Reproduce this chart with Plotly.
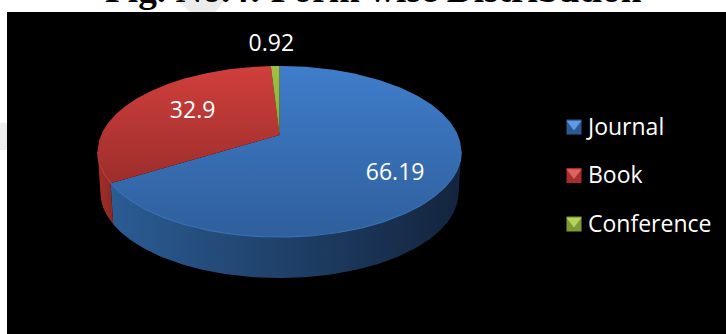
import numpy as np
import plotly.graph_objects as go

categories = ["Journal", "Book", "Conference"]
values = [66.19, 32.9, 0.92]
labels = ["66.19", "32.9", "0.92"]
label_radius = [0.725, 0.61, 1.42]
label_turn_deg = [5.5, 4.5, -0.7]
top_grad = [("#3f7dcb", "#2f5f9c"), ("#d03f3c", "#9c2e2b"), ("#a0c045", "#8aa83a")]
wall_grad = [("#2b5c94", "#13243d"), ("#a42f2b", "#8a2724"), ("#7d9a34", "#6b8529")]
rim = ["#3a70b4", "#b83a37", "#a8c84f"]
leg_dark = ["#2a5a94", "#a52f2c", "#7f9a35"]
leg_light = ["#5b9be6", "#e0615e", "#b4d25c"]

W, H = 726, 334
CX, CY, K, A, C = 279.5, 135.0, 178.4, -56.3, 0.193
DEPTH = 41.0
FONT = "Open Sans"


def project(theta, r=1.0, drop=0.0, scale=1.0):
    u, v = r * np.sin(theta), r * np.cos(theta)
    d = C * v + 1
    return CX + scale * K * u / d, (A * v + CY) / d + drop


edges = np.cumsum([0] + values) / sum(values) * 2 * np.pi
fig = go.Figure()

right_ext, left_ext = np.arccos(-C), 2 * np.pi - np.arccos(-C)
# Walls
for i in range(len(values)):
    a, b = max(edges[i], right_ext), min(edges[i + 1], left_ext)
    if b <= a:
        continue
    t = np.linspace(a, b, 160)
    x1, y1 = project(t)
    x2, y2 = project(t[::-1], drop=DEPTH, scale=0.985)
    fig.add_trace(go.Scatter(
        x=np.r_[x1, x2, x1[0]], y=np.r_[y1, y2, y1[0]], mode="lines", fill="toself",
        line=dict(width=0), hoverinfo="skip",
        fillgradient=dict(type="horizontal", colorscale=[[0, wall_grad[i][0]], [1, wall_grad[i][1]]]),
    ))
# Top face
for i in range(len(values)):
    t = np.linspace(edges[i], edges[i + 1], 240)
    x, y = project(t)
    fig.add_trace(go.Scatter(
        x=np.r_[CX, x, CX], y=np.r_[CY, y, CY], mode="lines", fill="toself",
        line=dict(width=0), hoverinfo="skip",
        fillgradient=dict(type="vertical", colorscale=[[0, top_grad[i][1]], [1, top_grad[i][0]]]),
    ))
# Rim highlight
for i in range(len(values)):
    a, b = max(edges[i], right_ext), min(edges[i + 1], left_ext)
    if b <= a:
        continue
    t = np.linspace(a, b, 160)
    x, y = project(t)
    fig.add_trace(go.Scatter(x=x, y=y, mode="lines", line=dict(width=1.2, color=rim[i]), hoverinfo="skip"))
# Data labels
mids = (edges[:-1] + edges[1:]) / 2
for i, s in enumerate(labels):
    x, y = project(mids[i] + np.radians(label_turn_deg[i]), r=label_radius[i], drop=2)
    fig.add_trace(go.Scatter(x=[x], y=[y], mode="text", text=[s], textposition="middle center",
                             textfont=dict(family=FONT, size=23, color="white"), hoverinfo="skip"))
# Legend
for i, name in enumerate(categories):
    y = 127 + i * 48.5
    fig.add_trace(go.Scatter(x=[574], y=[y], mode="markers", hoverinfo="skip",
                             marker=dict(symbol="square", size=15, color=leg_dark[i], line=dict(width=0))))
    fig.add_trace(go.Scatter(x=[574], y=[y - 3], mode="markers", hoverinfo="skip",
                             marker=dict(symbol="triangle-down", size=13, color=leg_light[i], line=dict(width=0))))
    fig.add_trace(go.Scatter(x=[588], y=[y + 2], mode="text", text=[name], textposition="middle right",
                             textfont=dict(family=FONT, size=23, color="white"), hoverinfo="skip"))

watermark = dict(xref="x", yref="y", fillcolor="#ececec", line=dict(width=0), layer="below")
fig.update_layout(
    width=W, height=H, margin=dict(l=0, r=0, t=0, b=0), autosize=False,
    paper_bgcolor="white", plot_bgcolor="white", showlegend=False,
    xaxis=dict(range=[0, W], visible=False, fixedrange=True),
    yaxis=dict(range=[H, 0], visible=False, fixedrange=True),
    shapes=[
        dict(type="path", path="M 177 0 L 225 0 L 215 12 L 190 12 Z", **watermark),
        dict(type="rect", x0=0, x1=7, y0=123, y1=150, **watermark),
        dict(type="rect", xref="x", yref="y", x0=7, x1=W, y0=12, y1=H,
             fillcolor="black", line=dict(width=0), layer="below"),
    ],
    annotations=[dict(text="<b>Fig. No.4: Form wise Distribution</b>", x=373, y=12, xref="x", yref="y",
                      xanchor="center", yanchor="bottom", showarrow=False,
                      font=dict(family="Liberation Serif", size=37.3, color="black"))],
)
fig.write_html("out.html", config=dict(displayModeBar=False),
               post_script="document.body.style.margin='0';document.documentElement.style.overflow='hidden';")
